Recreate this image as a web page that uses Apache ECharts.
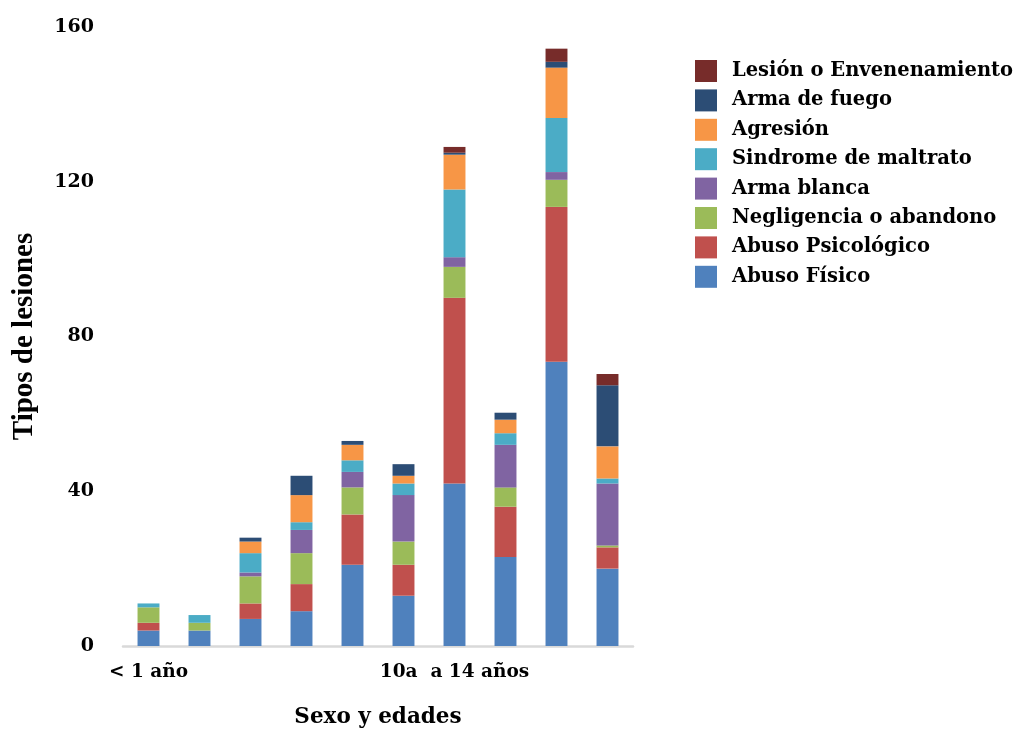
<!DOCTYPE html>
<html><head><meta charset="utf-8">
<script src="https://cdn.jsdelivr.net/npm/echarts@6/dist/echarts.min.js"></script>
<style>html,body{margin:0;padding:0;background:#fff}#c{width:1016px;height:729px}</style>
</head><body><div id="c"></div>
<script>
var categories = ["< 1 año", "", "", "", "", "", "10a  a 14 años", "", "", ""];
var yTicks = [0, 40, 80, 120, 160];
var abusoFisico      = [4, 4, 7, 9, 21, 13, 42, 23, 73.5, 20];
var abusoPsicologico = [2, 0, 4, 7, 13, 8, 48, 13, 40, 5.5];
var negligencia      = [4, 2, 7, 8, 7, 6, 8, 5, 7, 0.5];
var armaBlanca       = [0, 0, 1, 6, 4, 12, 2.5, 11, 2, 16];
var sindrome         = [1, 2, 5, 2, 3, 3, 17.5, 3, 14, 1.3];
var agresion         = [0, 0, 3, 7, 4, 2, 9, 3.5, 13, 8.3];
var armaFuego        = [0, 0, 1, 5, 1, 3, 0.5, 1.8, 1.5, 15.8];
var lesion           = [0, 0, 0, 0, 0, 0, 1.5, 0, 3.4, 2.9];

var names = ["Abuso Físico", "Abuso Psicológico", "Negligencia o abandono", "Arma blanca",
             "Sindrome de maltrato", "Agresión", "Arma de fuego", "Lesión o Envenenamiento"];
var values = [abusoFisico, abusoPsicologico, negligencia, armaBlanca, sindrome, agresion, armaFuego, lesion];
var colors = ["#4F81BD", "#C0504D", "#9BBB59", "#8064A2", "#4BACC6", "#F79646", "#2C4D75", "#772C2A"];
var FONT = "DejaVu Serif";

var series = names.map(function (n, i) {
  return { name: n, type: "bar", stack: "total", barWidth: "43%",
           itemStyle: { color: colors[i] }, data: values[i] };
});

var chart = echarts.init(document.getElementById("c"));
chart.setOption({
  animation: false,
  textStyle: { fontFamily: FONT },
  color: colors,
  grid: { left: 123, right: 383, top: 27, bottom: 83, containLabel: false, outerBoundsMode: "none" },
  legend: {
    data: names.slice().reverse(),
    orient: "vertical", left: 690, top: 55,
    itemWidth: 22, itemHeight: 22, itemGap: 7.4, icon: "rect",
    textStyle: { fontFamily: FONT, fontWeight: "bold", fontSize: 19.5, color: "#000", padding: [0, 0, 0, 10] }
  },
  xAxis: {
    type: "category", data: categories,
    name: "Sexo y edades", nameLocation: "middle", nameGap: 60,
    nameTextStyle: { fontFamily: FONT, fontWeight: "bold", fontSize: 21.5, color: "#000" },
    axisLine: { lineStyle: { color: "#D9D9D9", width: 2.5 } },
    axisTick: { show: false },
    axisLabel: { interval: 0, fontFamily: FONT, fontWeight: "bold", fontSize: 18.5, color: "#000", margin: 17 }
  },
  yAxis: {
    type: "value", min: yTicks[0], max: yTicks[yTicks.length - 1], interval: 40,
    name: "Tipos de lesiones", nameLocation: "middle", nameGap: 84, nameRotate: 90,
    nameTextStyle: { fontFamily: "Liberation Serif", fontWeight: "bold", fontSize: 29, color: "#000" },
    axisLine: { show: false }, axisTick: { show: false }, splitLine: { show: false },
    axisLabel: { fontFamily: FONT, fontWeight: "bold", fontSize: 19, color: "#000", margin: 29 }
  },
  series: series
});
</script></body></html>
